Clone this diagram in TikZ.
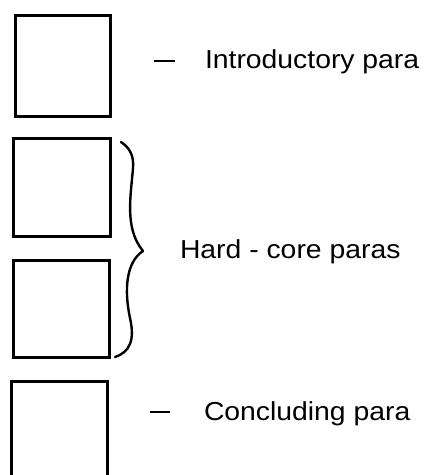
\documentclass[tikz,border=0pt]{standalone}
\usepackage{fontspec}
\setmainfont{Liberation Sans}
\begin{document}
\begin{tikzpicture}[x=1pt,y=-1pt,
  parabox/.style={draw, line width=3pt, rectangle, anchor=north west, inner sep=0pt, outer sep=0pt},
  lab/.style={anchor=base west, inner sep=0pt, outer sep=0pt, font=\fontsize{26}{30}\selectfont, xscale=1.09},
  dashline/.style={line width=2pt},
  braceline/.style={line width=2.4pt, line cap=round, line join=round}]
\useasboundingbox (0,0) rectangle (431,475);
\begin{scope}
\clip (0,0) rectangle (431,475);
% boxes
\node[parabox, minimum width=95pt, minimum height=101pt] (b1) at (15,15) {};
\node[parabox, minimum width=97pt, minimum height=98pt] (b2) at (13,138) {};
\node[parabox, minimum width=96pt, minimum height=97pt] (b3) at (13,260) {};
\node[parabox, minimum width=96pt, minimum height=110pt] (b4) at (11,381) {};
\end{scope}
% labels
\node[lab] (t1) at (205,68) {Introductory para};
\node[lab] (t2) at (180,258) {Hard - core paras};
\node[lab] (t3) at (204,420) {Concluding para};
% dashes
\coordinate (d1a) at (154,61);
\coordinate (d1b) at (175,61);
\coordinate (d4a) at (150,412);
\coordinate (d4b) at (170,412);
\draw[dashline] (d1a) -- (d1b);
\draw[dashline] (d4a) -- (d4b);
% brace
\coordinate (brtop) at (121,142);
\coordinate (brtip) at (143,251);
\coordinate (brbot) at (115,357);
\draw[braceline] (brtop) .. controls (130,148) and (134,156) .. (133,168)
  .. controls (131,195) and (124,228) .. (brtip)
  .. controls (126,262) and (124,290) .. (130,318)
  .. controls (135,340) and (130,352) .. (brbot);
\end{tikzpicture}
\end{document}
